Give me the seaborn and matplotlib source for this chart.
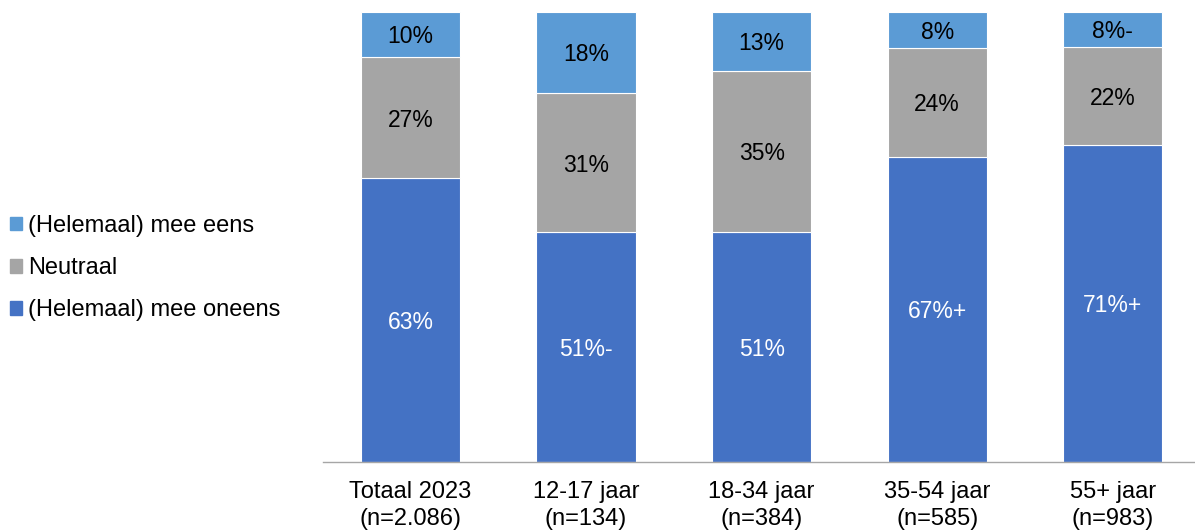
import matplotlib
matplotlib.use("Agg")
import matplotlib.pyplot as plt
from matplotlib.patches import Patch
import seaborn as sns
import numpy as np

categories = ["Totaal 2023\n(n=2.086)", "12-17 jaar\n(n=134)", "18-34 jaar\n(n=384)",
              "35-54 jaar\n(n=585)", "55+ jaar\n(n=983)"]
oneens = [63.0, 51.0, 51.2, 67.8, 70.5]
neutraal = [27.0, 31.0, 35.7, 24.2, 21.7]
eens = [10.0, 18.0, 13.1, 8.0, 7.8]
oneens_labels = ["63%", "51%-", "51%", "67%+", "71%+"]
neutraal_labels = ["27%", "31%", "35%", "24%", "22%"]
eens_labels = ["10%", "18%", "13%", "8%", "8%-"]

c_oneens = "#4472C4"
c_neutraal = "#A5A5A5"
c_eens = "#5B9BD5"

sns.set_style("white")
plt.rcParams["font.family"] = ["Liberation Sans", "DejaVu Sans"]
plt.rcParams["text.color"] = "black"
plt.rcParams["xtick.color"] = "black"
plt.rcParams["xtick.labelcolor"] = "black"

fig = plt.figure(figsize=(11.95, 5.32), dpi=100)
ax = fig.add_axes([0.270, 0.1316, 0.7347, 0.846])

bot2 = np.array(oneens)
bot3 = bot2 + np.array(neutraal)
bw = 0.565
sns.barplot(x=categories, y=oneens, color=c_oneens, saturation=1, width=bw,
            errorbar=None, edgecolor="white", linewidth=0.8, ax=ax)
sns.barplot(x=categories, y=neutraal, bottom=bot2, color=c_neutraal, saturation=1, width=bw,
            errorbar=None, edgecolor="white", linewidth=0.8, ax=ax)
sns.barplot(x=categories, y=eens, bottom=bot3, color=c_eens, saturation=1, width=bw,
            errorbar=None, edgecolor="white", linewidth=0.8, ax=ax)

fs_lab = 16.5
for i in range(len(categories)):
    ax.text(i, oneens[i] / 2, oneens_labels[i], ha="center", va="center_baseline",
            color="white", fontsize=fs_lab)
    ax.text(i, bot2[i] + neutraal[i] / 2, neutraal_labels[i], ha="center", va="center_baseline",
            color="black", fontsize=fs_lab)
    ax.text(i, bot3[i] + eens[i] / 2, eens_labels[i], ha="center", va="center_baseline",
            color="black", fontsize=fs_lab)

ax.set_xlim(-0.5, 4.5)
ax.set_ylim(0, 100)
ax.set_yticks([])
ax.set_ylabel("")
ax.tick_params(axis="x", length=0, pad=14, labelsize=17, labelcolor="black")
for lab in ax.get_xticklabels():
    lab.set_linespacing(1.25)
for s in ["top", "right", "left"]:
    ax.spines[s].set_visible(False)
ax.spines["bottom"].set_color("#A6A6A6")
ax.spines["bottom"].set_linewidth(1)

handles = [Patch(color=c_eens, label="(Helemaal) mee eens"),
           Patch(color=c_neutraal, label="Neutraal"),
           Patch(color=c_oneens, label="(Helemaal) mee oneens")]
fig.legend(handles=handles, loc="center left", bbox_to_anchor=(10 / 1195, 0.496),
           frameon=False, fontsize=17, handlelength=0.52, handleheight=0.52,
           handletextpad=0.25, labelspacing=0.86, borderpad=0, borderaxespad=0,
           labelcolor="black")

fig.savefig("out.png", dpi=100)
